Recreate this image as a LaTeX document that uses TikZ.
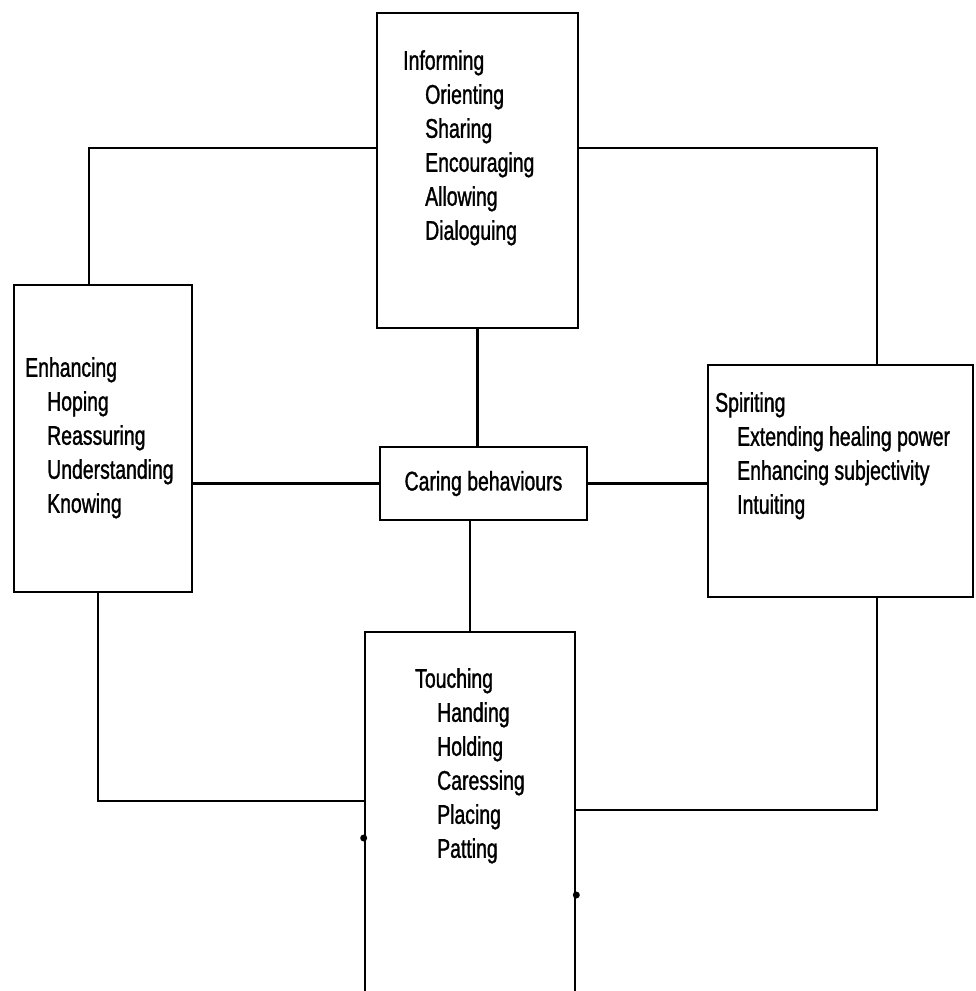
\documentclass[tikz,border=0pt]{standalone}
\usepackage{fontspec}
\setmainfont{Liberation Sans}[FakeStretch=0.72,FakeBold=1.2]
\usepackage{tikz}
\usetikzlibrary{positioning}

\newcommand{\ind}{\hspace*{22pt}}

\begin{document}
\begin{tikzpicture}[x=1pt,y=-1pt,
    box/.style={draw,line width=2.6pt,inner sep=0pt},
    item/.style={anchor=north west,inner sep=0pt,align=left,font=\fontsize{27}{34}\selectfont},
    link/.style={line width=2.2pt}]
            \clip (0,0) rectangle (975,991);
            \fill [white] (0,0) rectangle (975,991);

            % the five boxes
            \node [box,minimum width=201pt,minimum height=315pt] (inform) at (477.5,170.5) {};
            \node [box,minimum width=178pt,minimum height=307pt] (enhance) at (103,438.5) {};
            \node [box,minimum width=265pt,minimum height=232pt] (spirit) at (840.5,481) {};
            \node [box,minimum width=210pt,minimum height=368pt] (touch) at (470,816) {};
            \node [box,minimum width=207pt,minimum height=73pt,font=\fontsize{27}{34}\selectfont] (caring) at (483.5,483.5) {Caring behaviours};

            \node [item] (informtxt) at (403,50) {Informing\\\ind Orienting\\\ind Sharing\\\ind Encouraging\\\ind Allowing\\\ind Dialoguing};
            \node [item] (enhancetxt) at (25,357) {Enhancing\\\ind Hoping\\\ind Reassuring\\\ind Understanding\\\ind Knowing};
            \node [item] (spirittxt) at (715,392) {Spiriting\\\ind Extending healing power\\\ind Enhancing subjectivity\\\ind Intuiting};
            \node [item] (touchtxt) at (415,668) {Touching\\\ind Handing\\\ind Holding\\\ind Caressing\\\ind Placing\\\ind Patting};

            % corner points of the outer ring
            \coordinate (nw) at (89,148);
            \coordinate (ne) at (877,148);
            \coordinate (sw) at (98,801);
            \coordinate (se) at (877,810);

            \draw [link] (inform.west |- nw) -| (enhance.north -| nw);
            \draw [link] (inform.east |- ne) -| (spirit.north -| ne);
            \draw [link] (enhance.south -| sw) |- (touch.west |- sw);
            \draw [link] (spirit.south -| se) |- (touch.east |- se);

            % spokes to the centre
            \draw [link] (inform.south) -- (inform.south |- caring.north);
            \draw [link] (caring.west) -- (caring.west -| enhance.east);
            \draw [link] (caring.east) -- (caring.east -| spirit.west);
            \draw [link] (touch.north) -- (touch.north |- caring.south);

            \fill (touch.west |- 0,838) circle (3.5pt);
            \fill (touch.east |- 0,895) circle (3.5pt);
        \end{tikzpicture}
\end{document}
